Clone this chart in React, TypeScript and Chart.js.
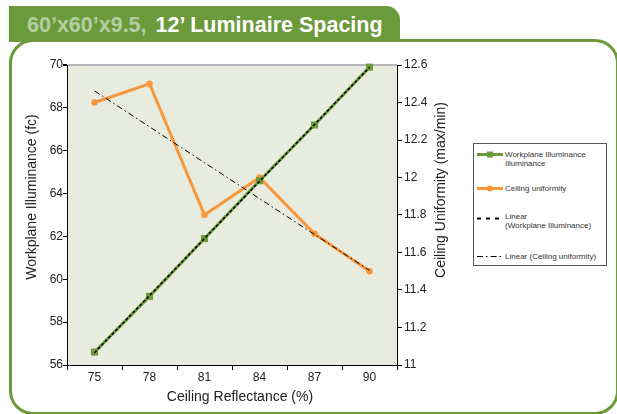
import React, { useEffect, useRef } from "react";
import { Chart, registerables } from "chart.js";

Chart.register(...registerables);

// ---------- data ----------
const categories = ["75", "78", "81", "84", "87", "90"];
const workplaneIlluminance = [56.6, 59.2, 61.9, 64.6, 67.2, 69.9];
const ceilingUniformity = [12.4, 12.5, 11.8, 12.0, 11.7, 11.5];
const leftTickValues = [56, 58, 60, 62, 64, 66, 68, 70];
const rightTickValues = [11, 11.2, 11.4, 11.6, 11.8, 12, 12.2, 12.4, 12.6];

const titleLight = "60’x60’x9.5,";
const titleMain = "12’ Luminaire Spacing";
const xTitle = "Ceiling Reflectance (%)";
const yLeftTitle = "Workplane Illuminance (fc)";
const yRightTitle = "Ceiling Uniformity (max/min)";
const legendLabels = [
  ["Workplane Illuminance", "Illuminance"],
  ["Ceiling uniformity"],
  ["Linear", "(Workplane Illuminance)"],
  ["Linear (Ceiling uniformity)"],
];

// least-squares linear trend (Excel "Linear" trendline) of a series
function linearTrend(values: number[]): number[] {
  const n = values.length;
  const xs = values.map((_, i) => i + 1);
  const mx = xs.reduce((a, b) => a + b, 0) / n;
  const my = values.reduce((a, b) => a + b, 0) / n;
  let sxy = 0;
  let sxx = 0;
  for (let i = 0; i < n; i++) {
    sxy += (xs[i] - mx) * (values[i] - my);
    sxx += (xs[i] - mx) * (xs[i] - mx);
  }
  const slope = sxy / sxx;
  return xs.map((x) => my + slope * (x - mx));
}

const GREEN = "#6b9a3a";
const ORANGE = "#f8963a";
const FONT = "'Liberation Sans', Arial, Helvetica, sans-serif";

const chartDecor = {
  id: "chartDecor",
  beforeDraw(chart: any) {
    const { ctx, chartArea } = chart;
    ctx.save();
    ctx.fillStyle = "#e8ecdf";
    ctx.fillRect(chartArea.left, chartArea.top, chartArea.right - chartArea.left, chartArea.bottom - chartArea.top);
    ctx.restore();
  },
  afterDraw(chart: any) {
    const { ctx } = chart;
    ctx.save();
    ctx.fillStyle = "#222";
    ctx.font = `14px ${FONT}`;
    ctx.textAlign = "center";
    ctx.textBaseline = "middle";
    // x title
    ctx.fillText(xTitle, 240, 397);
    // left title
    ctx.save();
    ctx.translate(32, 197);
    ctx.rotate(-Math.PI / 2);
    ctx.fillText(yLeftTitle, 0, 0);
    ctx.restore();
    // right title
    ctx.save();
    ctx.translate(441, 190);
    ctx.rotate(-Math.PI / 2);
    ctx.fillText(yRightTitle, 0, 0);
    ctx.restore();
    ctx.restore();
  },
};

function Legend() {
  const textStyle: React.CSSProperties = {
    position: "absolute",
    left: 31,
    fontFamily: FONT,
    fontSize: 8,
    lineHeight: "9px",
    color: "#333",
    whiteSpace: "nowrap",
  };
  return (
    <div
      style={{
        position: "absolute",
        left: 473,
        top: 143,
        width: 134,
        height: 123,
        boxSizing: "border-box",
        border: "1px solid #555",
        background: "#fff",
      }}
    >
      <svg width={132} height={121} style={{ position: "absolute", left: 0, top: 0 }}>
        <line x1={3} y1={10.5} x2={29} y2={10.5} stroke={GREEN} strokeWidth={3} />
        <rect x={13} y={7.5} width={6} height={6} fill={GREEN} />
        <line x1={3} y1={44.5} x2={29} y2={44.5} stroke={ORANGE} strokeWidth={3} />
        <circle cx={16} cy={44.5} r={3} fill={ORANGE} />
        <line x1={3} y1={74.5} x2={27} y2={74.5} stroke="#000" strokeWidth={2} strokeDasharray="4 5" />
        <line x1={3} y1={112.5} x2={28} y2={112.5} stroke="#000" strokeWidth={1} strokeDasharray="6 3 1.5 3" />
      </svg>
      <div style={{ ...textStyle, top: 6 }}>
        {legendLabels[0][0]}
        <br />
        {legendLabels[0][1]}
      </div>
      <div style={{ ...textStyle, top: 40 }}>{legendLabels[1][0]}</div>
      <div style={{ ...textStyle, top: 68 }}>
        {legendLabels[2][0]}
        <br />
        {legendLabels[2][1]}
      </div>
      <div style={{ ...textStyle, top: 108 }}>{legendLabels[3][0]}</div>
    </div>
  );
}

export default function App() {
  const canvasRef = useRef<HTMLCanvasElement | null>(null);

  useEffect(() => {
    if (!canvasRef.current) return;
    const tickFont = { family: FONT, size: 12 };
    const chart = new Chart(canvasRef.current, {
      type: "line",
      data: {
        labels: categories,
        datasets: [
          {
            label: "Linear (Workplane Illuminance)",
            data: linearTrend(workplaneIlluminance),
            yAxisID: "yL",
            borderColor: "#000",
            borderWidth: 1.5,
            borderDash: [3, 2],
            pointRadius: 0,
            fill: false,
            order: 0,
            clip: false,
          },
          {
            label: "Linear (Ceiling uniformity)",
            data: linearTrend(ceilingUniformity),
            yAxisID: "yR",
            borderColor: "#000",
            borderWidth: 1,
            borderDash: [6, 3, 1.5, 3],
            pointRadius: 0,
            fill: false,
            order: 1,
            clip: false,
          },
          {
            label: "Workplane Illuminance",
            data: workplaneIlluminance,
            yAxisID: "yL",
            borderColor: GREEN,
            backgroundColor: GREEN,
            borderWidth: 3,
            pointStyle: "rect",
            pointRadius: 5,
            pointBorderWidth: 0,
            fill: false,
            order: 2,
            clip: false,
          },
          {
            label: "Ceiling uniformity",
            data: ceilingUniformity,
            yAxisID: "yR",
            borderColor: ORANGE,
            backgroundColor: ORANGE,
            borderWidth: 3,
            pointStyle: "circle",
            pointRadius: 3.2,
            pointBorderWidth: 0,
            fill: false,
            order: 3,
            clip: false,
          },
        ],
      },
      options: {
        animation: false,
        responsive: false,
        maintainAspectRatio: false,
        layout: { padding: { left: 20, top: 65, right: 160, bottom: 4 } },
        plugins: { legend: { display: false }, tooltip: { enabled: false } },
        elements: { line: { tension: 0 } },
        scales: {
          x: {
            type: "category",
            offset: true,
            grid: {
              display: true,
              offset: true,
              drawOnChartArea: false,
              color: "#000",
              tickColor: "#000",
              tickLength: 5,
            },
            border: { display: true, color: "#000", width: 1 },
            ticks: { color: "#222", font: tickFont, padding: 0, maxRotation: 0 },
            afterFit(scale: any) {
              scale.height = 45;
            },
          },
          yL: {
            type: "linear",
            position: "left",
            min: 56,
            max: 70,
            afterBuildTicks(scale: any) {
              scale.ticks = leftTickValues.map((v) => ({ value: v }));
            },
            grid: {
              drawOnChartArea: true,
              color: (c: any) => (c.tick && c.tick.value === 70 ? "#b5b5b5" : "rgba(0,0,0,0)"),
              lineWidth: (c: any) => (c.tick && c.tick.value === 70 ? 2 : 1),
              tickColor: "#000",
              tickLength: 4,
            },
            border: { display: true, color: "#000", width: 1 },
            ticks: { color: "#222", font: tickFont, padding: 0 },
            afterFit(scale: any) {
              scale.width = 47;
            },
          },
          yR: {
            type: "linear",
            position: "right",
            min: 11,
            max: 12.6,
            afterBuildTicks(scale: any) {
              scale.ticks = rightTickValues.map((v) => ({ value: v }));
            },
            grid: {
              drawOnChartArea: false,
              color: "#000",
              tickColor: "#000",
              tickLength: 5,
            },
            border: { display: true, color: "#000", width: 1 },
            ticks: {
              color: "#222",
              font: tickFont,
              padding: 2,
              callback: (v: any) => String(Math.round(Number(v) * 10) / 10),
            },
            afterFit(scale: any) {
              scale.width = 60;
            },
          },
        },
      },
      plugins: [chartDecor],
    } as any);
    return () => chart.destroy();
  }, []);

  return (
    <div
      style={{
        position: "fixed",
        left: 0,
        top: 0,
        width: 617,
        height: 414,
        overflow: "hidden",
        background: "#fff",
      }}
    >
      {/* frame */}
      <div
        style={{
          position: "absolute",
          left: 9,
          top: 39,
          width: 610,
          height: 376,
          boxSizing: "border-box",
          border: `3px solid ${GREEN}`,
          borderRadius: 24,
        }}
      />
      {/* tab */}
      <div
        style={{
          position: "absolute",
          left: 9,
          top: 6,
          width: 391,
          height: 36,
          background: GREEN,
          borderTopRightRadius: 14,
          fontFamily: FONT,
          fontWeight: "bold",
          fontSize: 21.5,
          lineHeight: "38px",
          paddingLeft: 18,
          boxSizing: "border-box",
          whiteSpace: "nowrap",
        }}
      >
        <span style={{ color: "#b3cea2" }}>{titleLight}</span>
        <span style={{ color: "#fff", marginLeft: 9 }}>{titleMain}</span>
      </div>
      <canvas
        ref={canvasRef}
        width={617}
        height={414}
        style={{ position: "absolute", left: 0, top: 0, width: 617, height: 414 }}
      />
      <Legend />
    </div>
  );
}
